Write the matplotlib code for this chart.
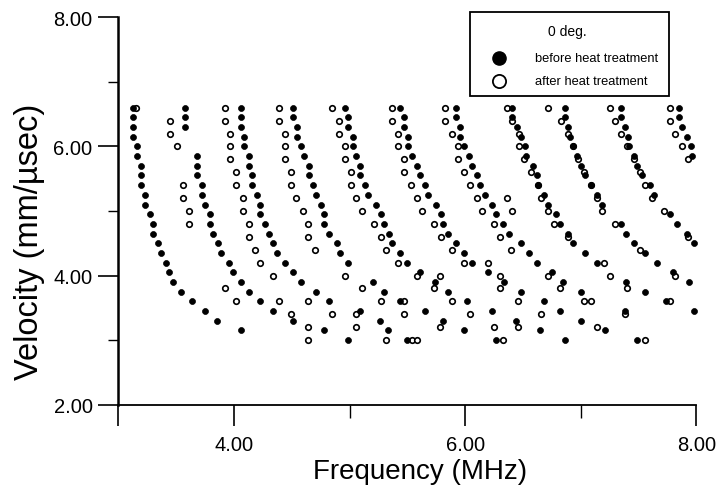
import matplotlib
matplotlib.use("Agg")
import matplotlib.pyplot as plt
from matplotlib.lines import Line2D
from matplotlib.patches import Rectangle

plt.rcParams['font.family'] = ['Liberation Sans', 'DejaVu Sans']

# ---------------- data ----------------
# Velocity levels (mm/usec) of the "before heat treatment" measurements
before_velocity = [6.60, 6.45, 6.30, 6.15, 6.00, 5.85, 5.70, 5.55, 5.40, 5.25,
                   5.10, 4.95, 4.80, 4.65, 4.50, 4.35, 4.20, 4.05, 3.90, 3.75,
                   3.60, 3.45, 3.30, 3.15, 3.00]
N = None
# Frequency (MHz) of each mode at each velocity level (None = no point)
before_mode1 = [3.13, 3.13, 3.13, 3.13, 3.16, 3.16, 3.20, 3.20, 3.20, 3.23, 3.23, 3.27, 3.30,
                3.30, 3.34, 3.37, 3.41, 3.44, 3.47, 3.54, 3.64, 3.75, 3.85, 4.06, N]
before_mode2 = [3.58, 3.58, 3.58, N, N, 3.68, 3.68, 3.68, 3.72, 3.72, 3.75, 3.79, 3.79,
                3.82, 3.86, 3.89, 3.96, 3.99, 4.06, 4.13, 4.23, 4.34, 4.51, 4.78, 4.99]
before_mode3 = [4.06, 4.06, 4.06, 4.09, 4.09, 4.13, 4.13, 4.16, 4.16, 4.20, 4.23, 4.23, 4.27,
                4.30, 4.34, 4.37, 4.44, 4.51, 4.58, 4.71, 4.82, 5.09, 5.26, 5.33, 5.50]
before_mode4 = [4.51, 4.51, 4.55, 4.55, 4.58, 4.61, 4.65, 4.65, 4.68, 4.71, 4.75, 4.78, 4.78,
                4.82, 4.89, 4.92, 4.99, N, 5.20, 5.30, 5.44, 5.65, 5.81, 5.99, 6.27]
before_mode5 = [4.96, 4.99, 4.99, 5.03, 5.03, 5.06, 5.09, 5.09, 5.13, 5.16, 5.23, 5.27, 5.30,
                5.34, 5.37, 5.44, 5.50, 5.61, 5.74, 5.85, 6.02, 6.23, 6.44, 6.65, 6.86]
before_mode6 = [5.44, 5.47, 5.47, 5.51, 5.51, 5.54, 5.58, 5.61, 5.65, 5.68, 5.75, 5.79, 5.81,
                5.85, 5.92, 5.99, 6.06, 6.20, 6.34, 6.48, 6.68, 6.82, 7.00, 7.21, 7.49]
before_mode7 = [5.92, 5.92, 5.96, 5.96, 5.99, 6.03, 6.06, 6.10, 6.13, 6.17, 6.23, 6.27, 6.33,
                6.38, 6.48, 6.55, 6.62, 6.75, 6.85, 7.00, N, 7.38, N, N, N]
before_mode8 = [6.41, 6.41, 6.45, 6.48, 6.52, 6.53, 6.59, 6.62, 6.63, 6.68, 6.72, 6.79, 6.82,
                6.89, 6.93, 7.04, 7.14, N, 7.39, 7.56, 7.74, 7.98, N, N, N]
before_mode9 = [6.86, 6.86, 6.89, 6.91, 6.93, 6.97, 7.00, 7.04, 7.09, 7.14, 7.18, N, 7.35,
                7.39, 7.46, 7.56, 7.66, 7.80, 7.94, N, N, N, N, N, N]
before_mode10 = [7.35, 7.35, 7.38, 7.41, 7.42, 7.46, 7.49, 7.53, 7.60, 7.63, N, 7.77, 7.83,
                 7.92, 7.98, N, N, N, N, N, N, N, N, N, N]
before_mode11 = [7.85, 7.85, 7.88, 7.92, 7.95, 7.96, N, N, N, N, N, N, N,
                 N, N, N, N, N, N, N, N, N, N, N, N]
before_modes = [before_mode1, before_mode2, before_mode3, before_mode4, before_mode5,
                before_mode6, before_mode7, before_mode8, before_mode9, before_mode10,
                before_mode11]

# "after heat treatment": velocity levels and the frequencies found at each level
after_velocity = [6.6, 6.4, 6.2, 6.0, 5.8, 5.6, 5.4, 5.2, 5.0, 4.8,
                  4.6, 4.4, 4.2, 4.0, 3.8, 3.6, 3.4, 3.2, 3.0]
after_freq_rows = [
    [3.15, 3.92, 4.39, 4.85, 5.37, 5.83, 6.36, 6.72, 7.25, 7.77],
    [3.45, 3.92, 4.39, 4.91, 5.37, 5.83, 6.41, 6.83, 7.30, 7.77],
    [3.45, 3.97, 4.44, 4.91, 5.42, 5.89, 6.47, 6.89, 7.35, 7.82],
    [3.51, 3.97, 4.44, 4.96, 5.42, 5.94, 6.47, 6.93, 7.40, 7.88],
    [3.97, 4.44, 4.96, 5.47, 5.94, 6.51, 6.98, 7.46, 7.93],
    [4.02, 4.49, 5.01, 5.47, 5.99, 6.57, 7.03, 7.51],
    [3.56, 4.02, 4.49, 5.01, 5.53, 6.04, 6.63, 7.09, 7.56],
    [3.56, 4.08, 4.54, 5.06, 5.58, 6.10, 6.36, 6.66, 7.14, 7.62],
    [3.61, 4.08, 4.60, 5.11, 5.63, 6.15, 6.41, 6.72, 7.18, 7.72],
    [3.61, 4.13, 4.64, 5.21, 5.73, 6.25, 6.77, 7.30],
    [4.13, 4.64, 5.27, 5.79, 6.30, 6.89, 7.93],
    [4.18, 4.70, 5.32, 5.89, 6.40, 7.51],
    [4.23, 5.42, 5.99, 6.20, 7.20],
    [4.34, 4.96, 5.58, 5.78, 6.30, 6.72, 7.25, 7.82],
    [3.92, 5.11, 5.73, 6.30, 6.82, 7.40],
    [4.02, 4.39, 4.64, 5.27, 5.47, 5.89, 6.46, 7.03, 7.09, 7.77],
    [4.49, 4.85, 5.06, 5.47, 6.04, 6.66, 7.38],
    [4.64, 5.06, 5.78, 6.25, 6.46, 7.14],
    [4.64, 5.32, 5.54, 5.58, 6.33, 7.56],
]

x_ticks = [3, 4, 6, 8]
x_tick_labels = ['', '4.00', '6.00', '8.00']
y_ticks = [2, 4, 6, 8]
y_tick_labels = ['2.00', '4.00', '6.00', '8.00']

# ---------------- figure ----------------
W, H = 723, 489
fig = plt.figure(figsize=(W / 100, H / 100), dpi=100)
L, R, T, B = 118.3, 696.3, 18.3, 405.7
ax = fig.add_axes([L / W, 1 - B / H, (R - L) / W, (B - T) / H])

bf, bv = [], []
for mode in before_modes:
    for f, v in zip(mode, before_velocity):
        if f is not None:
            bf.append(f)
            bv.append(v)
af, av = [], []
for row, v in zip(after_freq_rows, after_velocity):
    for f in row:
        af.append(f)
        av.append(v)

ax.plot(af, av, linestyle='none', marker='o', ms=4.0, mfc='white', mec='black',
        mew=1.2, clip_on=False, zorder=3)
ax.plot(bf, bv, linestyle='none', marker='o', ms=4.3, mfc='black', mec='black',
        mew=0.5, clip_on=False, zorder=4)

ax.set_xlim(3, 8)
ax.set_ylim(2, 8)
for s in ['top', 'right']:
    ax.spines[s].set_visible(False)
ax.spines['left'].set_linewidth(1.8)
ax.spines['bottom'].set_linewidth(1.3)

ax.set_xticks(x_ticks)
ax.set_xticklabels(x_tick_labels)
ax.set_xticks([5, 7], minor=True)
ax.set_yticks(y_ticks)
ax.set_yticklabels(y_tick_labels)
ax.set_yticks([3, 5, 7], minor=True)
ax.tick_params(axis='x', which='major', direction='out', length=15, width=1.2,
               labelsize=14.5, pad=7)
ax.tick_params(axis='x', which='minor', direction='out', length=9, width=1.0)
ax.tick_params(axis='y', which='major', direction='out', length=14.5, width=1.2,
               labelsize=14.5, pad=4)
ax.tick_params(axis='y', which='minor', direction='out', length=7, width=1.0)

ax.set_xlabel('Frequency (MHz)', fontsize=20)
ax.xaxis.set_label_coords((420 - L) / (R - L), -(459 - B) / (B - T))
ax.set_ylabel('Velocity (mm/\u00b5sec)', fontsize=23.5)
ax.yaxis.set_label_coords((45 - L) / (R - L), 1 - (242 - T) / (B - T))

# ---------------- legend box ----------------
lx0, lx1, ly0, ly1 = 470, 669, 13, 97
fig.add_artist(Rectangle((lx0 / W, 1 - ly1 / H), (lx1 - lx0) / W, (ly1 - ly0) / H,
                         transform=fig.transFigure, fill=False, ec='black', lw=1.3))
fig.text(567 / W, 1 - 32 / H, '0 deg.', ha='center', va='center', fontsize=10)
fig.add_artist(Line2D([499 / W], [1 - 59 / H], transform=fig.transFigure, marker='o',
                      ms=9.5, mfc='black', mec='black', linestyle='none'))
fig.add_artist(Line2D([499 / W], [1 - 82 / H], transform=fig.transFigure, marker='o',
                      ms=9.5, mfc='white', mec='black', mew=1.3, linestyle='none'))
fig.text(535 / W, 1 - 59 / H, 'before heat treatment', ha='left', va='center', fontsize=9.3)
fig.text(535 / W, 1 - 82 / H, 'after heat treatment', ha='left', va='center', fontsize=9.3)

fig.savefig('out.png', dpi=100)
